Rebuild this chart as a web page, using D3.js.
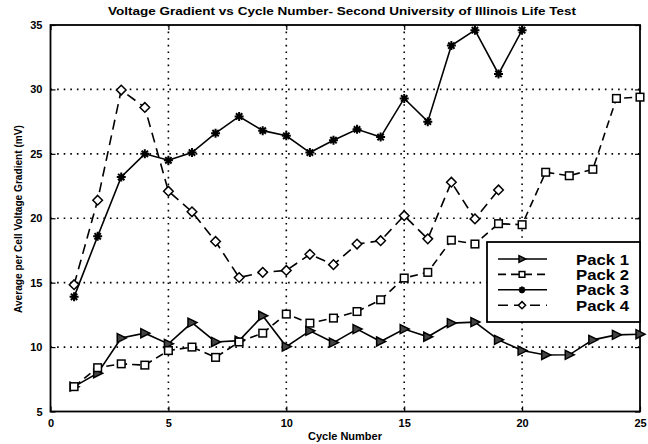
<!DOCTYPE html>
<html><head><meta charset="utf-8">
<script src="https://cdn.jsdelivr.net/npm/d3@7/dist/d3.min.js"></script>
<style>body{margin:0;background:#fff}svg text{font-family:"Liberation Sans",Arial,sans-serif;font-weight:bold}</style>
</head><body><svg id="c" width="648" height="444"></svg>
<script>
const title = "Voltage Gradient vs Cycle Number- Second University of Illinois Life Test";
const xLabel = "Cycle Number";
const yLabel = "Average per Cell Voltage Gradient (mV)";
const xTicks = [0,5,10,15,20,25];
const yTicks = [5,10,15,20,25,30,35];
const seriesNames = ["Pack 1","Pack 2","Pack 3","Pack 4"];
const pack1 = [6.93,7.97,10.7,11.08,10.25,11.9,10.4,10.5,12.43,10.04,11.26,10.35,11.4,10.43,11.4,10.8,11.86,11.94,10.56,9.73,9.39,9.4,10.56,10.95,11.0];
const pack2 = [6.93,8.4,8.7,8.6,9.73,10.0,9.2,10.4,11.08,12.56,11.86,12.25,12.76,13.67,15.36,15.8,18.3,18.0,19.58,19.5,23.57,23.3,23.8,29.3,29.4];
const pack3 = [13.9,18.6,23.2,25.0,24.5,25.1,26.6,27.9,26.8,26.4,25.1,26.06,26.9,26.3,29.3,27.5,33.4,34.6,31.2,34.6];
const pack4 = [14.84,21.4,29.95,28.6,22.1,20.5,18.2,15.4,15.8,15.95,17.2,16.4,18.0,18.26,20.2,18.4,22.8,19.95,22.2];

const svg = d3.select("#c");
const L=50.5,R=640,T=25,B=411.5;
const x = d3.scaleLinear().domain([0,25]).range([L,R]);
const y = d3.scaleLinear().domain([5,35]).range([B,T]);

// grid
const g = svg.append("g");
g.selectAll(".gx").data(xTicks.slice(1,-1)).enter().append("line")
 .attr("x1",d=>x(d)).attr("x2",d=>x(d)).attr("y1",T).attr("y2",B)
 .attr("stroke","#000").attr("stroke-width",1.6).attr("stroke-dasharray","1.6,5");
g.selectAll(".gy").data(yTicks.slice(1,-1)).enter().append("line")
 .attr("y1",d=>y(d)).attr("y2",d=>y(d)).attr("x1",L).attr("x2",R)
 .attr("stroke","#000").attr("stroke-width",1.6).attr("stroke-dasharray","1.6,5");

// axes
const xa = svg.append("g").attr("transform",`translate(0,${B})`)
 .call(d3.axisBottom(x).tickValues(xTicks).tickSize(-5).tickPadding(8));
const ya = svg.append("g").attr("transform",`translate(${L},0)`)
 .call(d3.axisLeft(y).tickValues(yTicks).tickSize(-5).tickPadding(8));
[xa,ya].forEach(a=>{a.select(".domain").remove();a.selectAll("line").attr("stroke","#000").attr("stroke-width",1.2);
 a.selectAll("text").attr("font-size",11).attr("fill","#000");});
svg.append("g").attr("transform",`translate(0,${T})`).call(d3.axisTop(x).tickValues(xTicks).tickSize(-5).tickFormat(""))
 .call(a=>{a.select(".domain").remove();a.selectAll("line").attr("stroke","#000").attr("stroke-width",1.2);});
svg.append("g").attr("transform",`translate(${R},0)`).call(d3.axisRight(y).tickValues(yTicks).tickSize(-5).tickFormat(""))
 .call(a=>{a.select(".domain").remove();a.selectAll("line").attr("stroke","#000").attr("stroke-width",1.2);});
svg.append("rect").attr("x",L).attr("y",T).attr("width",R-L).attr("height",B-T)
 .attr("fill","none").attr("stroke","#000").attr("stroke-width",1.8);

// lines
const line = d3.line().x((d,i)=>x(i+1)).y(d=>y(d));
const styles = [
 {data:pack1,dash:null,marker:"tri"},
 {data:pack2,dash:"8,5",marker:"sq"},
 {data:pack3,dash:null,marker:"star"},
 {data:pack4,dash:"10,6",marker:"dia"}];

function drawMarker(sel,type,cx,cy,s=1){
 if(type==="tri"){
  sel.append("path").attr("d",`M${cx-4*s},${cy-4.5*s}L${cx+5*s},${cy}L${cx-4*s},${cy+4.5*s}Z`)
   .attr("fill","#444").attr("stroke","#000").attr("stroke-width",1.5);
 } else if(type==="sq"){
  sel.append("rect").attr("x",cx-3.8*s).attr("y",cy-3.8*s).attr("width",7.6*s).attr("height",7.6*s)
   .attr("fill","#fff").attr("stroke","#000").attr("stroke-width",1.5);
 } else if(type==="dia"){
  sel.append("path").attr("d",`M${cx},${cy-4.8*s}L${cx+4.8*s},${cy}L${cx},${cy+4.8*s}L${cx-4.8*s},${cy}Z`)
   .attr("fill","#fff").attr("stroke","#000").attr("stroke-width",1.5);
 } else {
  const r=4.5*s;
  let d="";
  for(let k=0;k<4;k++){const a=k*Math.PI/4;d+=`M${cx-r*Math.cos(a)},${cy-r*Math.sin(a)}L${cx+r*Math.cos(a)},${cy+r*Math.sin(a)}`;}
  sel.append("path").attr("d",d).attr("stroke","#000").attr("stroke-width",2);
  sel.append("circle").attr("cx",cx).attr("cy",cy).attr("r",2.2*s).attr("fill","#000");
 }
}

styles.forEach(s=>{
 svg.append("path").datum(s.data).attr("d",line).attr("fill","none")
  .attr("stroke","#000").attr("stroke-width",1.6).attr("stroke-dasharray",s.dash);
});
styles.forEach(s=>{
 const mg = svg.append("g");
 s.data.forEach((v,i)=>drawMarker(mg,s.marker,x(i+1),y(v)));
});

// legend
const lg = svg.append("g");
lg.append("rect").attr("x",487).attr("y",242).attr("width",153).attr("height",80)
 .attr("fill","#fff").attr("stroke","#000").attr("stroke-width",1.8);
seriesNames.forEach((n,i)=>{
 const yy = 259+i*15.4;
 lg.append("line").attr("x1",498).attr("x2",547).attr("y1",yy).attr("y2",yy)
  .attr("stroke","#000").attr("stroke-width",1.6).attr("stroke-dasharray",styles[i].dash);
 drawMarker(lg,styles[i].marker,522,yy,0.75);
 lg.append("text").attr("x",576).attr("y",yy+5.5).attr("font-size",15.5).attr("fill","#000")
  .attr("textLength",53).attr("lengthAdjust","spacingAndGlyphs").text(n);
});

// labels
svg.append("text").attr("x",342).attr("y",15).attr("text-anchor","middle").attr("font-size",11.5)
 .attr("textLength",468).attr("lengthAdjust","spacingAndGlyphs").text(title);
svg.append("text").attr("x",345).attr("y",440).attr("text-anchor","middle").attr("font-size",11).text(xLabel);
svg.append("text").attr("transform",`translate(22,219) rotate(-90)`).attr("text-anchor","middle").attr("font-size",11)
 .attr("textLength",188).attr("lengthAdjust","spacingAndGlyphs").text(yLabel);
</script></body></html>
